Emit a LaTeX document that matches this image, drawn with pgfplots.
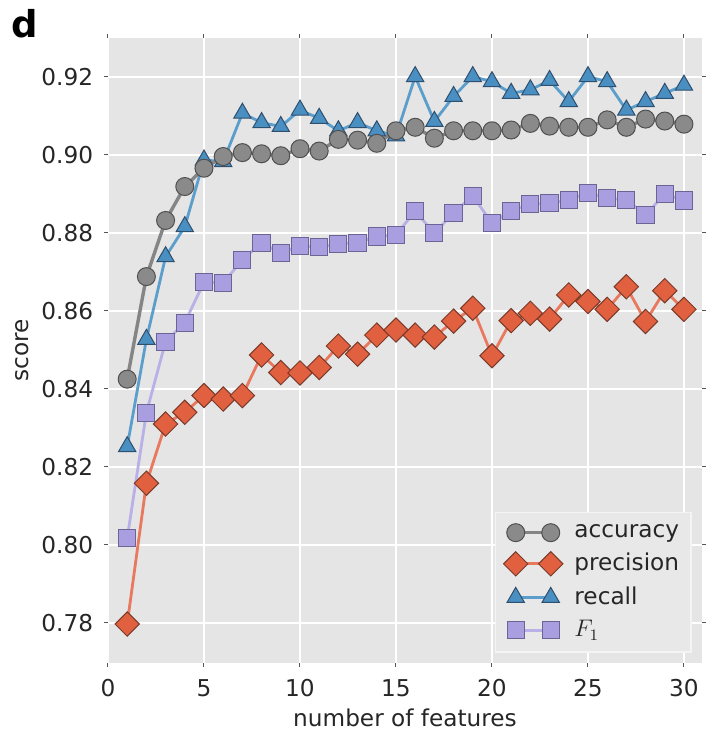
\documentclass[border=0pt]{standalone}
\usepackage{pgfplots}
\pgfplotsset{compat=1.18}
\usepackage{fontspec}
\setmainfont{DejaVu Sans}

\definecolor{bg}{HTML}{E5E5E5}
\definecolor{txt}{HTML}{262626}
\definecolor{tickc}{HTML}{555555}
\definecolor{legbg}{HTML}{E8E8E8}
\definecolor{legedge}{HTML}{F4F4F4}
% accuracy
\definecolor{accline}{HTML}{858585}
\definecolor{accfill}{HTML}{8A8A8A}
\definecolor{accedge}{HTML}{505050}
% precision
\definecolor{preline}{HTML}{E8785E}
\definecolor{prefill}{HTML}{E0603F}
\definecolor{preedge}{HTML}{7A3A2A}
% recall
\definecolor{recline}{HTML}{5B9DCB}
\definecolor{recfill}{HTML}{4A8FC2}
\definecolor{recedge}{HTML}{2F4F6F}
% F1
\definecolor{fline}{HTML}{B8B0E6}
\definecolor{ffill}{HTML}{A99FE0}
\definecolor{fedge}{HTML}{6B6494}

\pgfplotstableread{
x acc pre rec f
1 0.8425 0.7797 0.8252 0.8017
2 0.8688 0.8158 0.8527 0.8339
3 0.8832 0.8310 0.8739 0.8521
4 0.8919 0.8340 0.8816 0.8570
5 0.8966 0.8383 0.8987 0.8674
6 0.8996 0.8374 0.8983 0.8672
7 0.9006 0.8383 0.9107 0.8731
8 0.9003 0.8487 0.9083 0.8775
9 0.8998 0.8442 0.9073 0.8748
10 0.9016 0.8441 0.9115 0.8767
11 0.9010 0.8455 0.9094 0.8763
12 0.9040 0.8510 0.9062 0.8772
13 0.9038 0.8489 0.9083 0.8775
14 0.9030 0.8538 0.9062 0.8791
15 0.9062 0.8551 0.9049 0.8795
16 0.9071 0.8538 0.9201 0.8856
17 0.9043 0.8533 0.9086 0.8799
18 0.9062 0.8574 0.9150 0.8852
19 0.9062 0.8607 0.9201 0.8895
20 0.9062 0.8485 0.9188 0.8825
21 0.9064 0.8575 0.9158 0.8857
22 0.9081 0.8594 0.9167 0.8874
23 0.9074 0.8579 0.9191 0.8876
24 0.9071 0.8641 0.9137 0.8885
25 0.9071 0.8624 0.9201 0.8903
26 0.9090 0.8604 0.9188 0.8889
27 0.9071 0.8662 0.9115 0.8885
28 0.9092 0.8573 0.9137 0.8846
29 0.9087 0.8652 0.9158 0.8900
30 0.9079 0.8604 0.9179 0.8883
}\datatable

\pgfplotsset{
  accstyle/.style={draw=accline, line width=1.7pt, mark=*, mark size=4.5pt,
    mark options={fill=accfill, draw=accedge, line width=0.5pt, solid}},
  prestyle/.style={draw=preline, line width=1.4pt, mark=square*, mark size=4.3pt,
    mark options={rotate=45, fill=prefill, draw=preedge, line width=0.5pt, solid}},
  recstyle/.style={draw=recline, line width=1.4pt, mark=triangle*, mark size=5pt,
    mark options={fill=recfill, draw=recedge, line width=0.5pt, solid}},
  fstyle/.style={draw=fline, line width=1.4pt, mark=square*, mark size=4.3pt,
    mark options={fill=ffill, draw=fedge, line width=0.5pt, solid}},
}

\begin{document}
\fontsize{11.6}{13.5}\selectfont
\begin{tikzpicture}
\useasboundingbox (-54pt,-34.5pt) rectangle (302pt,331.5pt);
\begin{axis}[
  at={(0,0)}, anchor=south west,
  width=297pt, height=312.5pt, scale only axis,
  xmin=0, xmax=30.94, ymin=0.7697, ymax=0.93,
  xtick={0,5,10,15,20,25,30},
  ytick={0.78,0.80,0.82,0.84,0.86,0.88,0.90,0.92},
  /pgf/number format/assume math mode=true,
  yticklabel style={/pgf/number format/fixed, /pgf/number format/fixed zerofill, /pgf/number format/precision=2},
  tick label style={text=txt, font=\fontsize{11.6}{13.5}\selectfont},
  xticklabel shift=2.3pt,
  yticklabel shift=1.4pt,
  tick align=outside, tick pos=both,
  major tick length=2pt,
  major tick style={draw=tickc, line width=0.5pt},
  axis line style={draw=none},
  axis background/.style={fill=bg},
  grid=major,
  major grid style={draw=white, line width=0.7pt},
  xlabel={number of features},
  ylabel={score},
  every axis x label/.style={at={(axis description cs:0.5,-0.0874)}, anchor=center, text=txt, font=\fontsize{11.6}{13.5}\selectfont},
  every axis y label/.style={at={(axis description cs:-0.1448,0.5)}, anchor=center, rotate=90, text=txt, font=\fontsize{11.6}{13.5}\selectfont},
  legend style={at={(0.983,0.016)}, anchor=south east, fill=legbg, draw=legedge, line width=0.8pt,
    font=\fontsize{11.6}{13.5}\selectfont, text=txt, row sep=2.2pt, inner xsep=4pt, inner ysep=4pt},
  legend cell align=left,
  legend image code/.code={\draw[mark repeat=1, mark phase=1, #1] plot coordinates {(0pt,0pt) (17.5pt,0pt)};\path (26.5pt,0pt);},
]
\addlegendimage{accstyle}\addlegendentry{accuracy}
\addlegendimage{prestyle}\addlegendentry{precision}
\addlegendimage{recstyle}\addlegendentry{recall}
\addlegendimage{fstyle}\addlegendentry{$F_1$}

\addplot[fstyle, forget plot] table[x=x, y=f] {\datatable};
\addplot[prestyle, forget plot] table[x=x, y=pre] {\datatable};
\addplot[recstyle, forget plot] table[x=x, y=rec] {\datatable};
\addplot[accstyle, forget plot] table[x=x, y=acc] {\datatable};
\end{axis}
\node[font=\fontsize{18.5}{20}\selectfont\bfseries, inner sep=0pt, anchor=center, text=black] at (-41.5pt,319.5pt) {d};
\end{tikzpicture}
\end{document}
